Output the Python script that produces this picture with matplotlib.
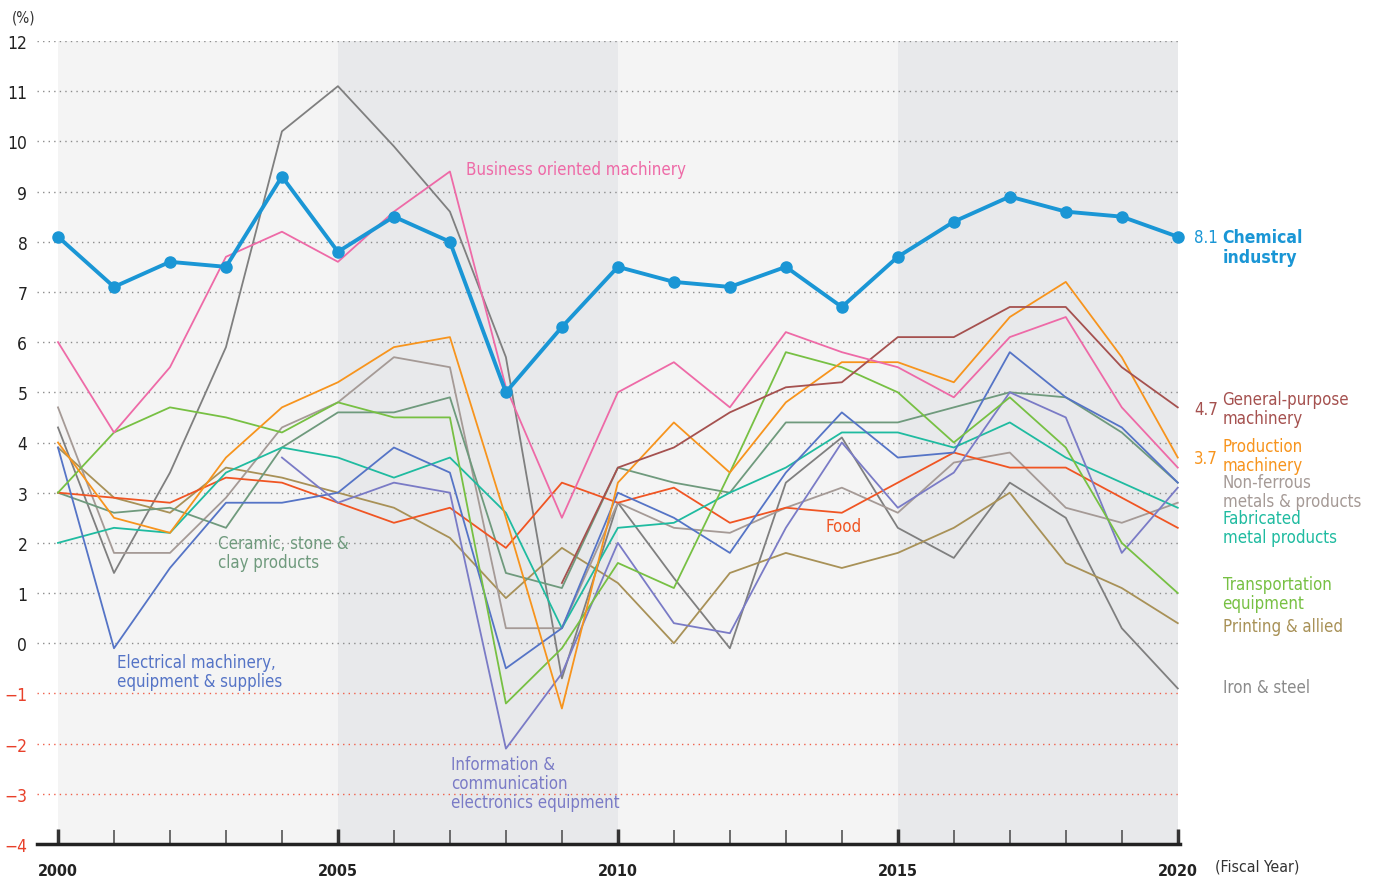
import numpy as np
import matplotlib
matplotlib.use('Agg')
import matplotlib.pyplot as plt
from matplotlib import font_manager

# look for a condensed face, the reference uses a narrow sans
narrow = [f for f in font_manager.fontManager.ttflist
          if 'condensed' in str(f.stretch).lower() or 'Narrow' in f.name or 'Condensed' in f.name]
if narrow:
    plt.rcParams['font.family'] = [narrow[0].name, 'DejaVu Sans']
    plt.rcParams['font.stretch'] = narrow[0].stretch
    k = 1.0
else:
    plt.rcParams['font.family'] = ['Liberation Sans', 'DejaVu Sans']
    k = 0.91

nan = np.nan
years = list(range(2000, 2021))

chemical = [8.1, 7.1, 7.6, 7.5, 9.3, 7.8, 8.5, 8.0, 5.0, 6.3, 7.5, 7.2, 7.1, 7.5, 6.7, 7.7, 8.4, 8.9, 8.6, 8.5, 8.1]
business = [6.0, 4.2, 5.5, 7.7, 8.2, 7.6, 8.6, 9.4, 5.1, 2.5, 5.0, 5.6, 4.7, 6.2, 5.8, 5.5, 4.9, 6.1, 6.5, 4.7, 3.5]
general = [nan] * 9 + [1.2, 3.5, 3.9, 4.6, 5.1, 5.2, 6.1, 6.1, 6.7, 6.7, 5.5, 4.7]
production = [4.0, 2.5, 2.2, 3.7, 4.7, 5.2, 5.9, 6.1, 2.5, -1.3, 3.2, 4.4, 3.4, 4.8, 5.6, 5.6, 5.2, 6.5, 7.2, 5.7, 3.7]
nonferrous = [4.7, 1.8, 1.8, 2.9, 4.3, 4.8, 5.7, 5.5, 0.3, 0.3, 2.8, 2.3, 2.2, 2.7, 3.1, 2.6, 3.6, 3.8, 2.7, 2.4, 2.8]
fabricated = [2.0, 2.3, 2.2, 3.4, 3.9, 3.7, 3.3, 3.7, 2.6, 0.3, 2.3, 2.4, 3.0, 3.5, 4.2, 4.2, 3.9, 4.4, 3.7, 3.2, 2.7]
transport = [3.0, 4.2, 4.7, 4.5, 4.2, 4.8, 4.5, 4.5, -1.2, -0.1, 1.6, 1.1, 3.4, 5.8, 5.5, 5.0, 4.0, 4.9, 3.9, 2.0, 1.0]
printing = [3.9, 2.9, 2.6, 3.5, 3.3, 3.0, 2.7, 2.1, 0.9, 1.9, 1.2, 0.0, 1.4, 1.8, 1.5, 1.8, 2.3, 3.0, 1.6, 1.1, 0.4]
iron = [4.3, 1.4, 3.4, 5.9, 10.2, 11.1, 9.9, 8.6, 5.7, -0.7, 2.8, 1.3, -0.1, 3.2, 4.1, 2.3, 1.7, 3.2, 2.5, 0.3, -0.9]
ceramic = [3.0, 2.6, 2.7, 2.3, 3.9, 4.6, 4.6, 4.9, 1.4, 1.1, 3.5, 3.2, 3.0, 4.4, 4.4, 4.4, 4.7, 5.0, 4.9, 4.2, 3.2]
electrical = [3.9, -0.1, 1.5, 2.8, 2.8, 3.0, 3.9, 3.4, -0.5, 0.3, 3.0, 2.5, 1.8, 3.4, 4.6, 3.7, 3.8, 5.8, 4.9, 4.3, 3.2]
info = [nan] * 4 + [3.7, 2.8, 3.2, 3.0, -2.1, -0.6, 2.0, 0.4, 0.2, 2.3, 4.0, 2.7, 3.4, 5.0, 4.5, 1.8, 3.1]
food = [3.0, 2.9, 2.8, 3.3, 3.2, 2.8, 2.4, 2.7, 1.9, 3.2, 2.8, 3.1, 2.4, 2.7, 2.6, 3.2, 3.8, 3.5, 3.5, 2.9, 2.3]

# (values, colour) in drawing order
series = [
    (iron, '#7f7f7f'),
    (printing, '#a89157'),
    (nonferrous, '#a59a96'),
    (ceramic, '#6f9a7d'),
    (food, '#f05523'),
    (fabricated, '#1fbba0'),
    (electrical, '#5574c6'),
    (info, '#7a7bc6'),
    (transport, '#77c043'),
    (production, '#f7941d'),
    (general, '#a5514f'),
    (business, '#ee6aa7'),
]
blue = '#1a96d5'

fig = plt.figure(figsize=(13.75, 8.79), dpi=100)
ax = fig.add_axes([37 / 1375, 34 / 879, 1143 / 1375, 803 / 879])
ax.set_xlim(1999.625, 2020.04)
ax.set_ylim(-4, 12)

# alternating background bands
for i, x0 in enumerate(range(2000, 2020, 5)):
    ax.axvspan(x0, x0 + 5, color='#f4f4f4' if i % 2 == 0 else '#e8e9eb', zorder=0, lw=0)

for v in range(-3, 13):
    ax.axhline(v, color='#f0604a' if v < 0 else '#8c8c8c', lw=1.0, ls=(0, (1, 3)), zorder=1)

for vals, c in series:
    ax.plot(years, vals, color=c, lw=1.3, zorder=3)
ax.plot(years, chemical, color=blue, lw=2.8, marker='o', ms=8, zorder=5, clip_on=False)

for s in ['top', 'right', 'left']:
    ax.spines[s].set_visible(False)
ax.spines['bottom'].set_linewidth(2.5)
ax.spines['bottom'].set_color('#222222')

ax.set_yticks(range(-4, 13))
ax.tick_params(axis='y', length=0, pad=7, labelsize=12.5 * k, labelcolor='#222222')
for lab in ax.get_yticklabels():
    if float(lab.get_text().replace('\u2212', '-')) < 0:
        lab.set_color('#e8402a')
ax.set_xticks([2000, 2005, 2010, 2015, 2020])
ax.set_xticks(years, minor=True)
ax.tick_params(axis='x', which='major', direction='in', length=11, width=2.5, color='#333333',
               labelsize=11.5 * k, pad=14, labelcolor='#222222')
ax.tick_params(axis='x', which='minor', direction='in', length=10, width=1.2, color='#555555')
for lab in ax.get_xticklabels():
    lab.set_fontweight('bold')

fig.text(12 / 1375, 1 - 18 / 879, '(%)', fontsize=11, va='center', color='#333333')
fig.text(1215 / 1375, 1 - 867 / 879, '(Fiscal Year)', fontsize=11.3 * k, va='center', color='#333333')

lkw = dict(fontsize=12.1 * k, va='center', linespacing=1.08, clip_on=False)
ax.text(2007.29, 9.45, 'Business oriented machinery', color='#ee6aa7', **lkw)
ax.text(2002.86, 1.81, 'Ceramic, stone &\nclay products', color='#6f9a7d', **lkw)
ax.text(2001.05, -0.56, 'Electrical machinery,\nequipment & supplies', color='#5574c6', **lkw)
ax.text(2007.02, -2.78, 'Information &\ncommunication\nelectronics equipment', color='#7a7bc6', **lkw)
ax.text(2013.71, 2.34, 'Food', color='#f05523', **lkw)

xv, xn = 2020.29, 2020.80
ax.text(xv, chemical[-1], f'{chemical[-1]}', color=blue, **lkw)
ax.text(xn, 7.89, 'Chemical\nindustry', color=blue, fontweight='bold', fontsize=12.6 * k,
        va='center', linespacing=1.15, clip_on=False)
ax.text(xv, general[-1] - 0.03, f'{general[-1]}', color='#a5514f', **lkw)
ax.text(xn, 4.68, 'General-purpose\nmachinery', color='#a5514f', **lkw)
ax.text(xv, production[-1], f'{production[-1]}', color='#f7941d', **lkw)
ax.text(xn, 3.74, 'Production\nmachinery', color='#f7941d', **lkw)
ax.text(xn, 3.02, 'Non-ferrous\nmetals & products', color='#a59a96', **lkw)
ax.text(xn, 2.31, 'Fabricated\nmetal products', color='#1fbba0', **lkw)
ax.text(xn, 0.99, 'Transportation\nequipment', color='#77c043', **lkw)
ax.text(xn, 0.34, 'Printing & allied', color='#a89157', **lkw)
ax.text(xn, -0.87, 'Iron & steel', color='#8a8a8a', **lkw)

fig.savefig('out.png', dpi=100)
